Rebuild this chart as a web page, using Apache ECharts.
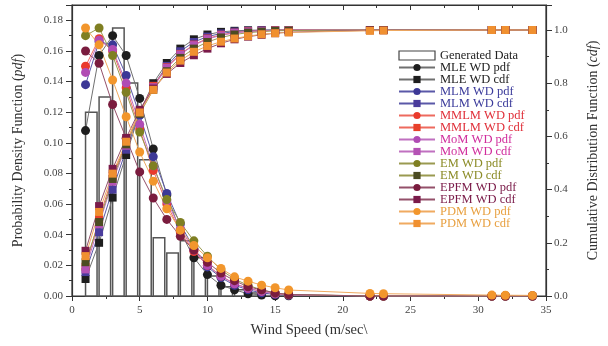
<!DOCTYPE html>
<html>
<head>
<meta charset="utf-8">
<script src="https://cdn.jsdelivr.net/npm/echarts@6/dist/echarts.min.js"></script>
<style>
  html, body { margin: 0; padding: 0; background: #fff; }
  #chart { width: 608px; height: 346px; }
</style>
</head>
<body>
<div id="chart"></div>
<script>
// wind speed values (m/sec) where the fitted curves are evaluated
const windSpeed = [1, 2, 3, 4, 5, 6, 7, 8, 9, 10, 11, 12, 13, 14, 15, 16, 22, 23, 31, 32, 34]

// histogram of the generated data
const histSpeed = [1, 2, 3, 4, 5, 6, 7, 8, 9, 10, 11, 12, 13]
const histDensity = [0.120, 0.130, 0.175, 0.139, 0.089, 0.038, 0.028, 0.036, 0.025, 0.013, 0.006, 0.004, 0.002]

// pdf values
const pdfMLE = [0.108, 0.157, 0.170, 0.157, 0.129, 0.096, 0.066, 0.042, 0.025, 0.014, 0.007, 0.004, 0.0015, 0.0006, 0.0002, 0.0001, 0, 0, 0, 0, 0]
const pdfMLM = [0.138, 0.166, 0.164, 0.144, 0.118, 0.091, 0.067, 0.047, 0.031, 0.019, 0.012, 0.007, 0.004, 0.002, 0.001, 0.0005, 0, 0, 0, 0, 0]
const pdfMMLM = [0.150, 0.168, 0.160, 0.136, 0.109, 0.082, 0.060, 0.042, 0.029, 0.020, 0.013, 0.008, 0.005, 0.003, 0.0015, 0.0008, 0, 0, 0, 0, 0]
const pdfMoM = [0.146, 0.167, 0.161, 0.139, 0.112, 0.085, 0.062, 0.044, 0.030, 0.020, 0.013, 0.008, 0.005, 0.003, 0.0015, 0.0008, 0, 0, 0, 0, 0]
const pdfEM = [0.170, 0.175, 0.157, 0.133, 0.107, 0.085, 0.063, 0.048, 0.036, 0.026, 0.017, 0.011, 0.007, 0.004, 0.002, 0.001, 0, 0, 0, 0, 0]
const pdfEPFM = [0.160, 0.152, 0.125, 0.103, 0.081, 0.064, 0.050, 0.039, 0.030, 0.022, 0.015, 0.010, 0.006, 0.004, 0.002, 0.001, 0, 0, 0, 0, 0]
const pdfPDM = [0.175, 0.164, 0.141, 0.117, 0.094, 0.075, 0.057, 0.043, 0.033, 0.025, 0.018, 0.0125, 0.0097, 0.0071, 0.0054, 0.0039, 0.0017, 0.0015, 0.0006, 0.0005, 0.0004]

// cdf values
const cdfMLE = [0.064, 0.20, 0.37, 0.53, 0.69, 0.80, 0.876, 0.93, 0.965, 0.983, 0.993, 0.997, 0.999, 1, 1, 1, 1, 1, 1, 1, 1]
const cdfMLM = [0.09, 0.24, 0.40, 0.55, 0.69, 0.79, 0.865, 0.92, 0.955, 0.975, 0.987, 0.994, 0.997, 0.999, 1, 1, 1, 1, 1, 1, 1]
const cdfMMLM = [0.11, 0.29, 0.45, 0.575, 0.695, 0.79, 0.86, 0.91, 0.945, 0.968, 0.982, 0.99, 0.995, 0.997, 0.999, 1, 1, 1, 1, 1, 1]
const cdfMoM = [0.10, 0.27, 0.43, 0.565, 0.69, 0.785, 0.858, 0.908, 0.943, 0.966, 0.98, 0.989, 0.994, 0.997, 0.998, 0.999, 1, 1, 1, 1, 1]
const cdfEM = [0.127, 0.278, 0.44, 0.57, 0.685, 0.775, 0.845, 0.895, 0.93, 0.955, 0.972, 0.983, 0.99, 0.994, 0.997, 0.998, 1, 1, 1, 1, 1]
const cdfEPFM = [0.17, 0.338, 0.478, 0.594, 0.70, 0.78, 0.835, 0.876, 0.905, 0.93, 0.95, 0.965, 0.975, 0.982, 0.988, 0.992, 0.999, 0.999, 1, 1, 1]
const cdfPDM = [0.15, 0.316, 0.46, 0.58, 0.69, 0.775, 0.84, 0.885, 0.918, 0.94, 0.956, 0.968, 0.977, 0.984, 0.988, 0.991, 0.997, 0.998, 1, 1, 1]

const font = 'Liberation Serif'
const binWidth = 0.85

// name, values, marker colour, line colour, text colour, pdf or cdf
const methods = [
  ['MLE WD pdf', pdfMLE, '#1e1e1e', '#707070', '#222222', 'pdf'],
  ['MLE WD cdf', cdfMLE, '#1e1e1e', '#707070', '#222222', 'cdf'],
  ['MLM WD pdf', pdfMLM, '#3c3896', '#5a58a8', '#3b3b9b', 'pdf'],
  ['MLM WD cdf', cdfMLM, '#4a3c9c', '#5a58a8', '#3b3b9b', 'cdf'],
  ['MMLM WD pdf', pdfMMLM, '#ea3a2c', '#ee6a5e', '#e0303a', 'pdf'],
  ['MMLM WD cdf', cdfMMLM, '#e8402a', '#ee6a5e', '#e0303a', 'cdf'],
  ['MoM WD pdf', pdfMoM, '#b04cb4', '#c070c0', '#d02c9c', 'pdf'],
  ['MoM WD cdf', cdfMoM, '#b452b4', '#c070c0', '#d02c9c', 'cdf'],
  ['EM WD pdf', pdfEM, '#7f7f22', '#9a9a50', '#8c8c28', 'pdf'],
  ['EM WD cdf', cdfEM, '#4c4c22', '#9a9a50', '#8c8c28', 'cdf'],
  ['EPFM WD pdf', pdfEPFM, '#7a1c3e', '#94506a', '#7a1a48', 'pdf'],
  ['EPFM WD cdf', cdfEPFM, '#7a1a4a', '#94506a', '#7a1a48', 'cdf'],
  ['PDM WD pdf', pdfPDM, '#f2962c', '#f0aa60', '#e8a040', 'pdf'],
  ['PDM WD cdf', cdfPDM, '#f09030', '#f0aa60', '#e8a040', 'cdf']
]

const lineSeries = methods.map(([name, values, marker, line, text, kind]) => ({
  name: name,
  type: 'line',
  yAxisIndex: kind === 'pdf' ? 0 : 1,
  data: windSpeed.map((x, i) => [x, values[i]]),
  symbol: kind === 'pdf' ? 'circle' : 'rect',
  symbolSize: kind === 'pdf' ? 9 : 8,
  itemStyle: { color: marker },
  lineStyle: { color: line, width: 1 },
  emphasis: { disabled: true },
  animation: false
}))

const histSeries = {
  name: 'Generated Data',
  type: 'custom',
  yAxisIndex: 0,
  data: histSpeed.map((x, i) => [x, histDensity[i]]),
  encode: { x: 0, y: 1 },
  itemStyle: { color: '#fff', borderColor: '#555', borderWidth: 1.2 },
  renderItem: (params, api) => {
    const x = api.value(0)
    const top = api.coord([x, api.value(1)])
    const bottom = api.coord([x + binWidth, 0])
    return {
      type: 'rect',
      shape: { x: top[0], y: top[1], width: bottom[0] - top[0], height: bottom[1] - top[1] },
      style: { fill: '#fff', stroke: '#555', lineWidth: 1.5 }
    }
  },
  animation: false
}

const legendData = [{
  name: 'Generated Data',
  icon: 'rect',
  itemStyle: { color: '#fff', borderColor: '#444', borderWidth: 1.2 },
  textStyle: { color: '#222' }
}].concat(methods.map(m => ({ name: m[0], textStyle: { color: m[4] } })))

const axisText = { fontFamily: font, fontSize: 11, color: '#444' }
const tickStyle = { color: '#333', width: 1 }

const chartOptions = {
  backgroundColor: '#fff',
  animation: false,
  grid: {
    left: 72, right: 57, top: 5, bottom: 50,
    show: true, borderColor: '#333', borderWidth: 1.2, backgroundColor: 'transparent'
  },
  legend: {
    orient: 'vertical',
    left: 393,
    top: 44,
    itemWidth: 36,
    itemHeight: 9,
    itemGap: -1,
    selectedMode: false,
    textStyle: { fontFamily: font, fontSize: 12.5 },
    data: legendData
  },
  xAxis: [
    {
      type: 'value',
      min: 0,
      max: 35,
      interval: 5,
      position: 'bottom',
      name: 'Wind Speed (m/sec\\',
      nameLocation: 'middle',
      nameGap: 27,
      nameTextStyle: { fontFamily: font, fontSize: 14.5, color: '#333' },
      axisLine: { show: true, onZero: false, lineStyle: { color: '#333', width: 1.2 } },
      axisTick: { show: true, inside: false, length: 5, lineStyle: tickStyle },
      minorTick: { show: true, splitNumber: 2, length: 3, lineStyle: tickStyle },
      axisLabel: Object.assign({ margin: 9 }, axisText),
      splitLine: { show: false }
    },
    {
      type: 'value',
      min: 0,
      max: 35,
      interval: 5,
      position: 'top',
      axisLine: { show: true, onZero: false, lineStyle: { color: '#333', width: 1.2 } },
      axisTick: { show: true, inside: true, length: 5, lineStyle: tickStyle },
      minorTick: { show: true, splitNumber: 2, length: 3, lineStyle: tickStyle },
      axisLabel: { show: false },
      splitLine: { show: false }
    }
  ],
  yAxis: [
    {
      type: 'value',
      min: 0,
      max: 0.19,
      interval: 0.02,
      position: 'left',
      name: 'Probability Density Function ({i|pdf})',
      nameLocation: 'middle',
      nameRotate: 90,
      nameGap: 47,
      nameTextStyle: {
        fontFamily: font, fontSize: 14, color: '#333',
        rich: { i: { fontFamily: font, fontSize: 14, fontStyle: 'italic', color: '#333' } }
      },
      axisLine: { show: true, onZero: false, lineStyle: { color: '#333', width: 1.2 } },
      axisTick: { show: true, length: 6, lineStyle: tickStyle },
      minorTick: { show: true, splitNumber: 2, length: 3, lineStyle: tickStyle },
      axisLabel: Object.assign({ margin: 9, showMaxLabel: false, formatter: v => v.toFixed(2) }, axisText),
      splitLine: { show: false }
    },
    {
      type: 'value',
      min: 0,
      max: 1.094,
      interval: 0.2,
      position: 'right',
      name: 'Cumulative Distribution Function ({i|cdf})',
      nameLocation: 'middle',
      nameRotate: 90,
      nameGap: 40,
      nameTextStyle: {
        fontFamily: font, fontSize: 14, color: '#333',
        rich: { i: { fontFamily: font, fontSize: 14, fontStyle: 'italic', color: '#333' } }
      },
      axisLine: { show: true, onZero: false, lineStyle: { color: '#333', width: 1.2 } },
      axisTick: { show: true, length: 6, lineStyle: tickStyle },
      minorTick: { show: true, splitNumber: 2, length: 3, lineStyle: tickStyle },
      axisLabel: Object.assign({ margin: 8, showMaxLabel: false, formatter: v => v.toFixed(1) }, axisText),
      splitLine: { show: false }
    }
  ],
  series: [histSeries].concat(lineSeries)
}

const chart = echarts.init(document.getElementById('chart'), null, { renderer: 'canvas' })
chart.setOption(chartOptions)
</script>
</body>
</html>
